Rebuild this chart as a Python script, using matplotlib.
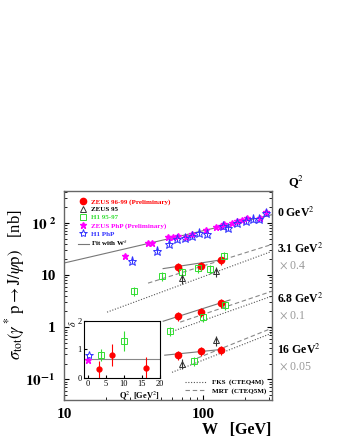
import numpy as np
import matplotlib
matplotlib.use("Agg")
import matplotlib.pyplot as plt
from matplotlib.lines import Line2D

plt.rcParams['font.family'] = ['Liberation Serif', 'DejaVu Serif']
plt.rcParams['mathtext.fontset'] = 'stix'

# ---- data ----
# photoproduction (Q^2 = 0)
w_zeus_php = [27.5, 40, 43, 56, 61, 66, 75, 83, 105, 124, 135, 142, 162, 176, 191, 208, 257, 284]
s_zeus_php = [23, 41, 41, 54, 54, 56, 54, 61, 73, 84, 88, 96, 100, 109, 114, 125, 125, 162]
w_h1_php = [31, 47, 57, 65, 74, 83, 94, 107, 139, 151, 176, 204, 229, 253, 284]
s_h1_php = [18.6, 29, 39.5, 49, 51.5, 56, 64, 61, 88, 80, 100, 109, 119, 119, 156]

# DIS, already scaled (x0.4, x0.1, x0.05)
w_zeus9699 = [66, 97, 135]
s_zeus9699_q31 = [14.3, 14.9, 19.4]
s_zeus9699_q68 = [1.63, 1.94, 2.9]
s_zeus9699_q16 = [0.29, 0.35, 0.36]

w_h1_q31 = [32, 51, 71, 92, 112, 142]
s_h1_q31 = [4.9, 9.6, 11.4, 13.6, 13.0, 23.2]
w_h1_q68 = [58, 100, 144]
s_h1_q68 = [0.84, 1.56, 2.65]
w_h1_q16 = [86]
s_h1_q16 = [0.22]

w_zeus95 = [71, 124]
s_zeus95_q31 = [8.75, 11.9]
s_zeus95_q16 = [0.20, 0.56]

# fits sigma ~ W^delta
fit_wlo = [10, 51.6, 51.6, 53]
fit_whi = [313, 139, 156, 139]
fit_norm = [17, 13.3, 1.30, 0.29]
fit_delta = [0.62, 0.40, 0.85, 0.27]

# theory curves (end points)
fks_w = [[20.4, 303], [57.9, 313], [59.8, 313]]
fks_s = [[1.94, 27.7], [0.80, 3.95], [0.136, 0.77]]
mrt_w = [[40.2, 303], [68.4, 313], [90.6, 313]]
mrt_s = [[7.0, 37.7], [1.25, 4.9], [0.254, 0.957]]

# inset: delta vs Q^2
q2_zeus = [3.1, 6.8, 16]
d_zeus = [0.31, 0.81, 0.36]
e_zeus = [0.3, 0.4, 0.37]
q2_h1 = [3.6, 10]
d_h1 = [0.81, 1.3]
e_h1 = [0.2, 0.35]
d_php_mean = 0.67

q2_labels = ['0 GeV$^2$', '3.1 GeV$^2$', '6.8 GeV$^2$', '16 GeV$^2$']
scale_labels = ['', '$\\times$ 0.4', '$\\times$ 0.1', '$\\times$ 0.05']

RED = '#ff0000'
GREEN = '#33dd33'
MAG = '#ff00ff'
BLUE = '#3333ff'
GREY = '#555555'

fig = plt.figure(figsize=(3.45, 4.47), dpi=100)
ax = fig.add_axes([0.1855, 0.1051, 0.603, 0.4676])
ax.set_xscale('log')
ax.set_yscale('log')
ax.set_xlim(10, 313)
ax.set_ylim(0.04, 410)

# fits
for lo, hi, n, d in zip(fit_wlo, fit_whi, fit_norm, fit_delta):
    ww = np.array([lo, hi])
    ax.plot(ww, n * (ww / lo) ** d, color='#777777', lw=0.8)
for ww, ss in zip(fks_w, fks_s):
    ax.plot(ww, ss, color=GREY, lw=0.8, ls=(0, (1, 1.5)))
for ww, ss in zip(mrt_w, mrt_s):
    ax.plot(ww, ss, color='#888888', lw=0.8, ls=(0, (4, 2.5)))


def pts(w, s, rel, **kw):
    s = np.array(s)
    ax.errorbar(w, s, yerr=rel * s, ls='none', elinewidth=0.8, capsize=0, **kw)


pts(w_zeus_php, s_zeus_php, 0.08, marker='*', color=MAG, ms=5)
pts(w_h1_php, s_h1_php, 0.12, marker='*', color=BLUE, ms=6.5, mfc='none', mew=0.7)
for s in [s_zeus9699_q31, s_zeus9699_q68, s_zeus9699_q16]:
    pts(w_zeus9699, s, 0.2, marker='o', color=RED, ms=4.5)
pts(w_h1_q31 + w_h1_q68 + w_h1_q16, s_h1_q31 + s_h1_q68 + s_h1_q16, 0.2,
    marker='s', color=GREEN, ms=4.5, mfc='none', mew=0.7)
pts(w_zeus95 + w_zeus95, s_zeus95_q31 + s_zeus95_q16, 0.22,
    marker='^', color='#333333', ms=5, mfc='none', mew=0.7)

ax.set_xticks([10, 100])
ax.set_xticklabels(['10', '100'])
ax.set_yticks([0.1, 1, 10, 100])
ax.set_yticklabels(['$\\mathbf{10^{-1}}$', '1', '10', '$\\mathbf{10^{\\ 2}}$'])
ax.tick_params(axis='both', which='both', direction='in', right=True, top=False)
ax.tick_params(labelsize=11, pad=6)
for t in ax.get_xticklabels() + ax.get_yticklabels():
    t.set_fontweight('bold')
for sp in ax.spines.values():
    sp.set_color('#666666')
    sp.set_linewidth(1.0)

fig.text(0.788, 0.028, 'W   [GeV]', fontsize=11.5, fontweight='bold', ha='right')
ax.set_ylabel('$\\sigma_{\\rm tot}(\\gamma^* \\,{\\rm p}\\rightarrow {\\rm J}/\\psi {\\rm p})$   [nb]',
              fontsize=12)
ax.yaxis.set_label_coords(-0.18, 0.55)

# legends
h = [Line2D([], [], marker='o', color=RED, ls='none', ms=4.5),
     Line2D([], [], marker='^', color='#333333', mfc='none', ls='none', ms=5, mew=0.7),
     Line2D([], [], marker='s', color=GREEN, mfc='none', ls='none', ms=4.5, mew=0.7),
     Line2D([], [], marker='*', color=MAG, ls='none', ms=5),
     Line2D([], [], marker='*', color=BLUE, mfc='none', ls='none', ms=6, mew=0.7),
     Line2D([], [], color='#777777', lw=0.8)]
lab = ['ZEUS 96-99 (Preliminary)', 'ZEUS 95', 'H1 95-97', 'ZEUS PhP (Preliminary)', 'H1 PhP',
       'Fit with W$^\\delta$']
leg = ax.legend(h, lab, loc='upper left', bbox_to_anchor=(0.035, 0.995), frameon=False,
                labelspacing=0.3, handlelength=1.6, handletextpad=0.4,
                prop={'weight': 'bold', 'size': 5})
for t, c in zip(leg.get_texts(), [RED, 'black', GREEN, MAG, BLUE, 'black']):
    t.set_color(c)

h2 = [Line2D([], [], color=GREY, lw=0.8, ls=(0, (1, 1.5))),
      Line2D([], [], color='#888888', lw=0.8, ls=(0, (4, 2.5)))]
ax.legend(h2, ['FKS  (CTEQ4M)', 'MRT  (CTEQ5M)'], loc='lower right', frameon=False,
          bbox_to_anchor=(1.0, 0.0), prop={'weight': 'bold', 'size': 5},
          labelspacing=0.3, handlelength=3, handletextpad=0.8)
ax.add_artist(leg)

# right-hand labels
fig.text(0.835, 0.584, 'Q$^2$', fontsize=9, fontweight='bold')
ylab = [0.515, 0.435, 0.322, 0.208]
for y, t1, t2 in zip(ylab, q2_labels, scale_labels):
    fig.text(0.803, y, t1, fontsize=8.5, fontweight='bold')
    if t2:
        fig.text(0.81, y - 0.035, t2, fontsize=8.5, color='#999999')

# inset
ins = fig.add_axes([0.2435, 0.1544, 0.2203, 0.1275])
ins.set_xlim(-1, 20)
ins.set_ylim(0, 2)
ins.axhline(d_php_mean, color='#888888', lw=0.8)
ins.errorbar(q2_zeus, d_zeus, yerr=e_zeus, ls='none', marker='o', color=RED, ms=3.5,
             elinewidth=0.8)
ins.errorbar(q2_h1, d_h1, yerr=e_h1, ls='none', marker='s', color=GREEN, ms=4.5,
             mfc='none', mew=0.7, elinewidth=0.8)
ins.plot([0], [0.63], marker='*', color=MAG, ms=5, ls='none')
ins.plot([0.3], [0.81], marker='*', color=BLUE, ms=6, mfc='none', mew=0.7, ls='none')
ins.set_xticks([0, 5, 10, 15, 20])
ins.set_yticks([0, 1, 2])
ins.tick_params(direction='in', labelsize=6, pad=1.5, length=2.5)
ins.set_xlabel('Q$^2$  [GeV$^2$]', fontsize=6, fontweight='bold', loc='right', labelpad=1)
ins.set_ylabel('$\\delta$', fontsize=7, loc='top', labelpad=0)
for sp in ins.spines.values():
    sp.set_linewidth(0.8)

fig.savefig('out.png', dpi=100)
